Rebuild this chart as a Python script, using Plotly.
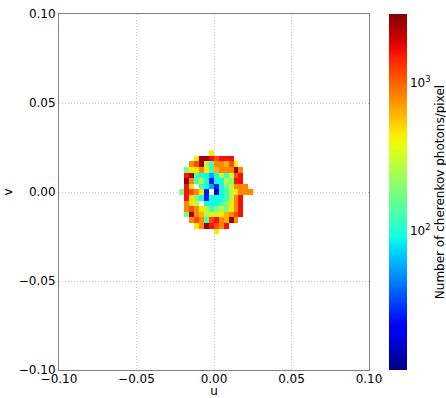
import numpy as np
import plotly.graph_objects as go

# Camera pixel grid (pixel pitch in u and v) and pixel indices
pitch_u = 0.0032
pitch_v = 0.00313
col_index = list(range(-7, 8))          # u columns, left edge at n * pitch_u
row_index = list(range(7, -8, -1))      # v rows, centred on m * pitch_v (top row first)

# Photon counts per pixel (None = no photons recorded), rows listed top to bottom
N_ = None
counts = [
    [N_,   N_,   N_,   N_,   N_,   N_,   450,  N_,   N_,   N_,   N_,   N_,   N_,   N_,   N_],
    [N_,   N_,   N_,   450,  2500, 2500, 1600, 1150, 1600, 1600, 1600, N_,   N_,   N_,   N_],
    [N_,   N_,   800,  1150, 2500, 280,  125,  800,  800,  620,  1150, 450,  N_,   N_,   N_],
    [N_,   180,  450,  450,  800,  450,  125,  620,  800,  800,  800,  2500, 800,  N_,   N_],
    [N_,   1600, 2500, 125,  90,   90,   55,   90,   280,  125,  280,  1150, 1600, N_,   N_],
    [N_,   2500, 800,  125,  280,  90,   26,   90,   90,   280,  180,  1600, 1600, N_,   N_],
    [N_,   1600, 450,  N_,   125,  90,   55,   26,   90,   180,  280,  800,  800,  800,  N_],
    [180,  1600, 1150, 800,  450,  26,   N_,   15,   90,   125,  280,  450,  800,  800,  800],
    [N_,   1600, 450,  180,  90,   26,   90,   90,   90,   125,  280,  800,  1600, N_,   N_],
    [N_,   800,  450,  280,  N_,   90,   90,   90,   125,  180,  450,  800,  1600, N_,   N_],
    [N_,   800,  1150, 800,  450,  280,  125,  180,  280,  180,  450,  800,  1600, N_,   N_],
    [N_,   180,  2500, 800,  620,  280,  450,  280,  450,  620,  800,  1150, 1600, N_,   N_],
    [N_,   N_,   800,  1150, 800,  125,  1150, 1600, 800,  620,  2500, 800,  N_,   N_,   N_],
    [N_,   N_,   N_,   450,  800,  2500, 1600, 1150, 800,  1600, N_,   N_,   N_,   N_,   N_],
    [N_,   N_,   N_,   N_,   N_,   N_,   N_,   450,  N_,   N_,   N_,   N_,   N_,   N_,   N_],
]

# Colour scale limits (photons/pixel) and colour-bar ticks
count_min = 11.3
count_max = 2930.0
cbar_ticks = [100, 1000]
cbar_labels = ["10<sup>2</sup>", "10<sup>3</sup>"]

# Axis ticks
axis_ticks = [-0.10, -0.05, 0.00, 0.05, 0.10]
axis_labels = ["\u22120.10", "\u22120.05", "0.00", "0.05", "0.10"]


def jet(t):
    r = np.interp(t, [0, 0.35, 0.66, 0.89, 1], [0, 0, 1, 1, 0.5])
    g = np.interp(t, [0, 0.125, 0.375, 0.64, 0.91, 1], [0, 0, 1, 1, 0, 0])
    b = np.interp(t, [0, 0.11, 0.34, 0.65, 1], [0.5, 1, 1, 0, 0])
    return f"rgb({int(round(r*255))},{int(round(g*255))},{int(round(b*255))})"


stops = np.linspace(0, 1, 41)
jet_scale = [[float(s), jet(s)] for s in stops]

u_centers = [(n + 0.5) * pitch_u for n in col_index]
v_centers = [m * pitch_v for m in row_index]

# log10 of counts for the logarithmic colour scale; plotted bottom row first
z = [[np.log10(c) if c is not None else None for c in row] for row in counts]
z = z[::-1]
v_sorted = v_centers[::-1]

fig = go.Figure(
    go.Heatmap(
        x=u_centers,
        y=v_sorted,
        z=z,
        colorscale=jet_scale,
        zmin=np.log10(count_min),
        zmax=np.log10(count_max),
        hoverongaps=False,
        colorbar=dict(
            tickvals=[np.log10(t) for t in cbar_ticks],
            ticktext=cbar_labels,
            ticks="",
            tickfont=dict(size=12, color="#000"),
            thickness=18,
            len=1.0,
            lenmode="fraction",
            y=0.5,
            yanchor="middle",
            x=1.0645,
            xanchor="left",
            xpad=0,
            ypad=0,
            outlinewidth=0,
            title=dict(
                text="Number of cherenkov photons/pixel",
                side="right",
                font=dict(size=12, color="#000"),
            ),
        ),
    )
)

axis_common = dict(
    range=[-0.1, 0.1],
    tickvals=axis_ticks,
    ticktext=axis_labels,
    tickfont=dict(size=12, color="#000"),
    showgrid=True,
    gridcolor="#c4c4c4",
    griddash="1px,2px",
    gridwidth=1,
    zeroline=False,
    showline=True,
    linecolor="#808080",
    linewidth=1,
    mirror=True,
    ticks="",
)

fig.update_xaxes(**axis_common, ticklabelstandoff=-2,
                 title=dict(text="u", font=dict(size=12, color="#000"), standoff=7))
fig.update_yaxes(**axis_common,
                 title=dict(text="v", font=dict(size=12, color="#000"), standoff=3))

fig.update_layout(
    width=446,
    height=398,
    margin=dict(l=59, r=77, t=14, b=28, autoexpand=False),
    paper_bgcolor="white",
    plot_bgcolor="white",
    font=dict(family="DejaVu Sans", size=12, color="#000"),
)

fig.write_html("out.html")
